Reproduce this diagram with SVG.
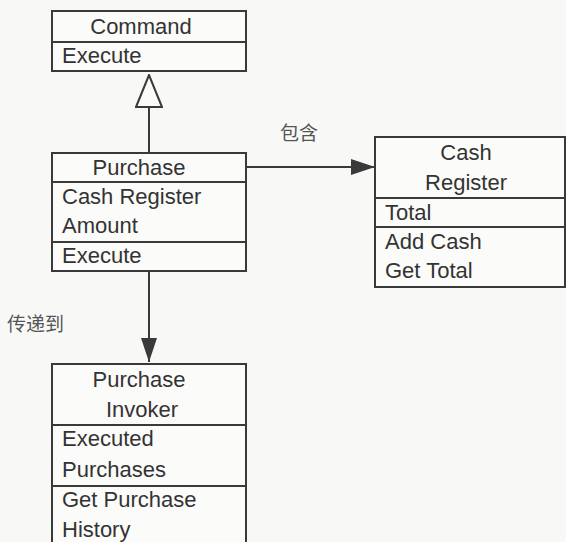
<svg xmlns="http://www.w3.org/2000/svg" width="566" height="542" viewBox="0 0 566 542">
<defs>
<style>
.box{fill:#fbfbfa;stroke:#3a3a3a;stroke-width:2}
.div{stroke:#3a3a3a;stroke-width:2}
.t{font-family:"Liberation Sans",Arial,sans-serif;font-size:22px;fill:#333}
.c{text-anchor:middle}
.lbl{font-family:"Noto Sans CJK SC","Liberation Sans",sans-serif;font-size:19px;fill:#555}
.line{stroke:#3a3a3a;stroke-width:2;fill:none}
</style>
<marker id="filled" viewBox="0 0 24 16" refX="24" refY="8" markerWidth="24" markerHeight="16" markerUnits="userSpaceOnUse" orient="auto">
<path d="M0,0 L24,8 L0,16 Z" fill="#3a3a3a"/>
</marker>
<marker id="hollow" viewBox="0 0 34 28" refX="33" refY="14" markerWidth="34" markerHeight="28" markerUnits="userSpaceOnUse" orient="auto">
<path d="M1,1 L33,14 L1,27 Z" fill="#fbfbfa" stroke="#3a3a3a" stroke-width="2"/>
</marker>
</defs>
<rect width="566" height="542" fill="#f8f8f7"/>
<g id="connectors">
<line class="line" x1="149" y1="153" x2="149" y2="75" marker-end="url(#hollow)"/>
<line class="line" x1="246" y1="167" x2="375" y2="167" marker-end="url(#filled)"/>
<line class="line" x1="149" y1="271" x2="149" y2="362" marker-end="url(#filled)"/>
<text class="lbl" x="280" y="140">包含</text>
<text class="lbl" x="7" y="331">传递到</text>
</g>
<g id="command">
<rect class="box" x="52" y="11" width="194" height="60"/>
<line class="div" x1="52" y1="42" x2="246" y2="42"/>
<text class="t c" x="141" y="34">Command</text>
<text class="t" x="62" y="63">Execute</text>
</g>
<g id="purchase">
<rect class="box" x="52" y="153" width="194" height="118"/>
<line class="div" x1="52" y1="182" x2="246" y2="182"/>
<line class="div" x1="52" y1="242" x2="246" y2="242"/>
<text class="t c" x="139" y="175">Purchase</text>
<text class="t" x="62" y="204">Cash Register</text>
<text class="t" x="62" y="233">Amount</text>
<text class="t" x="62" y="263">Execute</text>
</g>
<g id="cashregister">
<rect class="box" x="375" y="137" width="190" height="150"/>
<line class="div" x1="375" y1="198" x2="565" y2="198"/>
<line class="div" x1="375" y1="227" x2="565" y2="227"/>
<text class="t c" x="466" y="160">Cash</text>
<text class="t c" x="466" y="190">Register</text>
<text class="t" x="385" y="220">Total</text>
<text class="t" x="385" y="249">Add Cash</text>
<text class="t" x="385" y="278">Get Total</text>
</g>
<g id="invoker">
<rect class="box" x="52" y="364" width="194" height="190"/>
<line class="div" x1="52" y1="425" x2="246" y2="425"/>
<line class="div" x1="52" y1="486" x2="246" y2="486"/>
<text class="t c" x="139" y="387">Purchase</text>
<text class="t c" x="142" y="417">Invoker</text>
<text class="t" x="62" y="446">Executed</text>
<text class="t" x="62" y="477">Purchases</text>
<text class="t" x="62" y="507">Get Purchase</text>
<text class="t" x="62" y="537">History</text>
</g>
</svg>
